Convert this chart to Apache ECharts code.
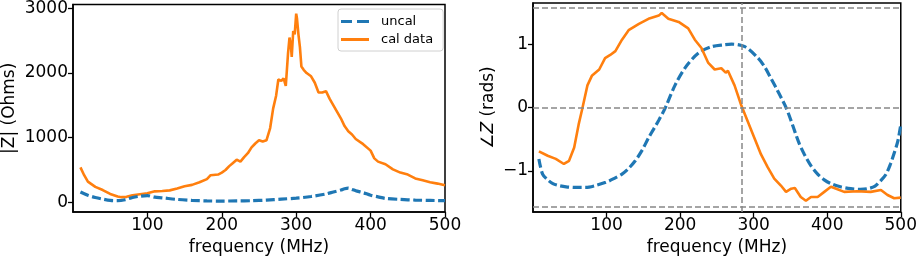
<!DOCTYPE html>
<html>
<head>
<meta charset="utf-8">
<script src="https://cdn.jsdelivr.net/npm/echarts@6/dist/echarts.min.js"></script>
<style>
  html, body { margin: 0; padding: 0; background: #fff; }
  #chart { width: 920px; height: 261px; }
</style>
</head>
<body>
<div id="chart"></div>
<script>
// |Z| calibrated (orange)
const freqCalMag = [10, 15, 20, 30, 40, 50, 60, 65, 72, 80, 90, 100, 110, 120, 130, 140, 150, 160, 170, 180, 185, 195, 200, 205, 210, 215, 220, 225, 230, 235, 240, 245, 250, 255, 260, 265, 269, 273, 276, 280, 283, 286, 289, 291, 293, 294, 296, 298, 300, 301, 303, 305, 307, 310, 314, 320, 325, 330, 335, 340, 345, 350, 355, 360, 365, 370, 375, 380, 390, 400, 405, 410, 420, 430, 440, 450, 460, 470, 480, 490, 500];
const calMag = [540, 420, 320, 240, 190, 130, 90, 80, 85, 110, 125, 140, 170, 175, 185, 215, 250, 270, 310, 360, 420, 430, 460, 500, 560, 610, 660, 630, 700, 760, 850, 910, 960, 940, 960, 1150, 1450, 1650, 1900, 1880, 1920, 1800, 2300, 2550, 2400, 2250, 2650, 2600, 2920, 2850, 2600, 2400, 2100, 2050, 2000, 1950, 1850, 1700, 1700, 1720, 1600, 1500, 1400, 1300, 1180, 1100, 1050, 980, 900, 800, 680, 630, 590, 510, 460, 430, 370, 340, 310, 290, 265];

// |Z| uncalibrated (blue dashed)
const freqUncalMag = [10, 20, 30, 40, 50, 60, 70, 80, 90, 100, 110, 120, 140, 160, 180, 200, 220, 240, 260, 280, 300, 320, 340, 350, 360, 365, 370, 375, 380, 390, 400, 410, 420, 440, 460, 480, 500];
const uncalMag = [160, 110, 75, 50, 30, 25, 40, 75, 95, 105, 80, 70, 45, 30, 22, 20, 22, 25, 35, 50, 65, 90, 130, 160, 190, 210, 220, 200, 180, 150, 110, 85, 60, 45, 35, 30, 25];

// angle Z calibrated (orange)
const freqCalPh = [8, 20, 31, 42, 49, 56, 62, 67, 74, 80, 90, 98, 105, 112, 121, 130, 144, 157, 171, 175, 184, 198, 211, 220, 229, 238, 247, 256, 262, 265, 274, 283, 292, 301, 310, 319, 328, 337, 344, 351, 356, 364, 371, 378, 387, 396, 405, 414, 423, 441, 459, 473, 482, 491, 500];
const calPh = [-0.69, -0.76, -0.81, -0.89, -0.84, -0.63, -0.27, -0.02, 0.35, 0.5, 0.6, 0.78, 0.83, 0.89, 1.07, 1.22, 1.32, 1.4, 1.45, 1.49, 1.4, 1.35, 1.25, 1.07, 0.94, 0.71, 0.6, 0.62, 0.55, 0.58, 0.35, 0.04, -0.22, -0.48, -0.74, -0.94, -1.12, -1.23, -1.33, -1.28, -1.27, -1.41, -1.47, -1.41, -1.41, -1.33, -1.25, -1.29, -1.33, -1.32, -1.33, -1.3, -1.38, -1.43, -1.42];

// angle Z uncalibrated (blue dashed)
const freqUncalPh = [8, 13, 20, 27, 35, 45, 60, 72, 85, 99, 110, 121, 130, 139, 148, 157, 164, 171, 180, 193, 207, 225, 243, 260, 270, 288, 306, 315, 324, 331, 338, 344, 350, 356, 362, 369, 378, 387, 396, 405, 418, 432, 445, 455, 465, 473, 480, 486, 491, 496, 500];
const uncalPh = [-0.81, -1.05, -1.14, -1.2, -1.23, -1.25, -1.26, -1.26, -1.23, -1.18, -1.12, -1.05, -0.96, -0.84, -0.68, -0.48, -0.34, -0.2, 0, 0.35, 0.63, 0.86, 0.96, 0.99, 1.0, 0.96, 0.78, 0.64, 0.45, 0.3, 0.14, 0, -0.18, -0.38, -0.57, -0.74, -0.92, -1.05, -1.14, -1.2, -1.25, -1.28, -1.29, -1.28, -1.24, -1.15, -1.05, -0.89, -0.72, -0.53, -0.27];

const magTicks = [0, 1000, 2000, 3000];
const phaseTicks = [-1, 0, 1];
const phaseRefY = [-Math.PI / 2, 0, Math.PI / 2];
const phaseRefX = [284];

const pairs = (xs, ys) => xs.map((x, i) => [x, ys[i]]);
const FONT = 'DejaVu Sans';
const FS = 17;
const BLUE = '#1f77b4';
const ORANGE = '#ff7f0e';
const DASH = [9, 3.5];

const xAxisBase = (gridIndex) => ({
  type: 'value',
  gridIndex,
  min: 0,
  max: 500,
  interval: 100,
  name: 'frequency (MHz)',
  nameLocation: 'middle',
  nameGap: 22,
  nameTextStyle: { fontFamily: FONT, fontSize: FS, color: '#000' },
  axisLine: { show: true, onZero: false, lineStyle: { color: '#000', width: 1.5 } },
  axisTick: { show: true, inside: false, length: 5, lineStyle: { color: '#000', width: 1.3 } },
  axisLabel: { showMinLabel: false, fontFamily: FONT, fontSize: FS, color: '#000', margin: 5 },
  splitLine: { show: false }
});

const chart = echarts.init(document.getElementById('chart'), null, { renderer: 'canvas' });

chart.setOption({
  animation: false,
  backgroundColor: '#fff',
  grid: [
    { left: 73, right: 475, top: 3, bottom: 45, show: true, borderColor: '#000', borderWidth: 1.5 },
    { left: 533, right: 17, top: 3, bottom: 45, show: true, borderColor: '#000', borderWidth: 1.5 }
  ],
  legend: {
    data: [
      { name: 'uncal', icon: 'path://M0,0h11v3h-11zM16,0h12v3h-12z' },
      { name: 'cal data', icon: 'path://M0,0h28v3h-28z' }
    ],
    orient: 'vertical',
    left: 338,
    top: 9,
    itemWidth: 28,
    itemHeight: 3,
    itemGap: 5,
    padding: [6, 10, 5, 3],
    backgroundColor: 'rgba(255,255,255,0.85)',
    borderColor: '#d0d0d0',
    borderWidth: 1,
    borderRadius: 3,
    textStyle: { fontFamily: FONT, fontSize: 13, color: '#000', padding: [0, 0, 0, 7] }
  },
  xAxis: [xAxisBase(0), xAxisBase(1)],
  yAxis: [
    {
      type: 'value',
      gridIndex: 0,
      min: -151,
      max: 3060,
      name: '|Z| (Ohms)',
      nameLocation: 'middle',
      nameGap: 55,
      nameTextStyle: { fontFamily: FONT, fontSize: FS, color: '#000' },
      axisLine: { show: true, onZero: false, lineStyle: { color: '#000', width: 1.5 } },
      axisTick: { show: true, length: 5, customValues: magTicks, lineStyle: { color: '#000', width: 1.3 } },
      axisLabel: { customValues: magTicks, formatter: (v) => String(v), fontFamily: FONT, fontSize: FS, color: '#000', margin: 5 },
      splitLine: { show: false }
    },
    {
      type: 'value',
      gridIndex: 1,
      min: -1.649,
      max: 1.649,
      name: '{a|∠}{i|Z}{a| (rads)}',
      nameLocation: 'middle',
      nameGap: 36,
      nameTextStyle: {
        rich: {
          a: { fontFamily: FONT, fontSize: FS, color: '#000' },
          i: { fontFamily: FONT, fontSize: FS, fontStyle: 'italic', color: '#000' }
        }
      },
      axisLine: { show: true, onZero: false, lineStyle: { color: '#000', width: 1.5 } },
      axisTick: { show: true, length: 5, customValues: phaseTicks, lineStyle: { color: '#000', width: 1.3 } },
      axisLabel: {
        customValues: phaseTicks,
        formatter: (v) => (v < 0 ? '\u2212' + Math.abs(v) : String(v)),
        fontFamily: FONT, fontSize: FS, color: '#000', margin: 5
      },
      splitLine: { show: false }
    }
  ],
  series: [
    {
      name: 'uncal', type: 'line', xAxisIndex: 0, yAxisIndex: 0,
      data: pairs(freqUncalMag, uncalMag), symbol: 'none', smooth: 0.3,
      lineStyle: { color: BLUE, width: 3.2, type: DASH }, itemStyle: { color: BLUE }, z: 3
    },
    {
      name: 'cal data', type: 'line', xAxisIndex: 0, yAxisIndex: 0,
      data: pairs(freqCalMag, calMag), symbol: 'none',
      lineStyle: { color: ORANGE, width: 2.6 }, itemStyle: { color: ORANGE }, z: 2
    },
    {
      name: 'uncal', type: 'line', xAxisIndex: 1, yAxisIndex: 1,
      data: pairs(freqUncalPh, uncalPh), symbol: 'none', smooth: 0.3,
      lineStyle: { color: BLUE, width: 3.2, type: DASH }, itemStyle: { color: BLUE }, z: 3,
      markLine: {
        silent: true, symbol: 'none', label: { show: false },
        lineStyle: { color: '#888', width: 1.5, type: [6, 3] },
        data: phaseRefY.map((y) => ({ yAxis: y })).concat(phaseRefX.map((x) => ({ xAxis: x })))
      }
    },
    {
      name: 'cal data', type: 'line', xAxisIndex: 1, yAxisIndex: 1,
      data: pairs(freqCalPh, calPh), symbol: 'none',
      lineStyle: { color: ORANGE, width: 2.6 }, itemStyle: { color: ORANGE }, z: 4
    }
  ]
});
</script>
</body>
</html>
